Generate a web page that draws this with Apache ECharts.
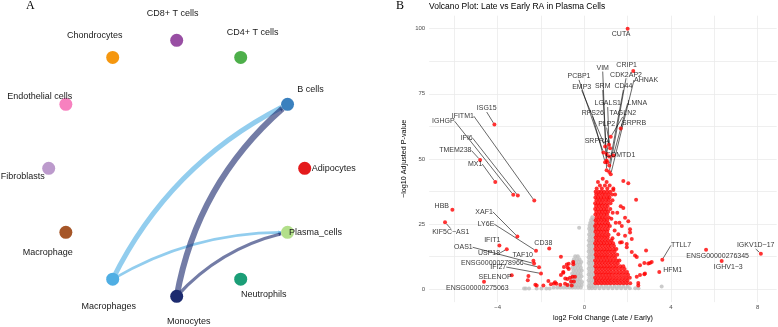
<!DOCTYPE html>
<html>
<head>
<meta charset="utf-8">
<script src="https://cdn.jsdelivr.net/npm/echarts@6/dist/echarts.min.js"></script>
<style>
html, body { margin: 0; padding: 0; background: #fff; }
#chart { width: 778px; height: 327px; }
</style>
</head>
<body>
<div id="chart"></div>
<script>
// ---- panel A: cell-type interaction network ----
const cellTypes = ['Adipocytes', 'B cells', 'CD4+ T cells', 'CD8+ T cells', 'Chondrocytes',
    'Endothelial cells', 'Fibroblasts', 'Macrophage', 'Macrophages', 'Monocytes',
    'Neutrophils', 'Plasma_cells'];
const cellColors = ['#E41A1C', '#3A80BE', '#4DAF4A', '#984EA3', '#F5970F', '#F781BF',
    '#BC9ACC', '#A65628', '#4FAEE3', '#1D2B6F', '#1B9E77', '#B2DF8A'];
const edgeFrom = ['Macrophages', 'Macrophages', 'Monocytes', 'Monocytes'];
const edgeTo = ['B cells', 'Plasma_cells', 'B cells', 'Plasma_cells'];
const edgeStrength = [5, 2.7, 6, 3.3];

// label offsets around each node (px) and edge bends
const nodeLabelOffset = [[29, 0], [23, -15], [12, -25], [-4, -27], [-18, -22], [-26, -8],
    [-26, 8], [-18, 20], [-4, 27], [12, 25], [23, 15], [28, 0]];
const edgeBend = [0.17, 0.14, 0.18, 0.16];

// ---- panel B: volcano plot ----
const geneNames = ['CUTA', 'CRIP1', 'ISG15', 'IFITM1', 'IGHGP', 'IFI6', 'TMEM238', 'MX1', 'HBB',
    'KIF5C\u2212AS1', 'XAF1', 'LY6E', 'IFIT1', 'USP18', 'OAS1', 'TAF10', 'CD38', 'ENSG00000278966',
    'IFI27', 'SELENOP', 'ENSG00000275063', 'TTLL7', 'HFM1', 'ENSG00000276345', 'IGHV1\u22123',
    'IGKV1D\u221217', 'PCBP1', 'EMP3', 'RPS26', 'SRPRA', 'VIM', 'SRM', 'LGALS1', 'PLP2', 'TAGLN2',
    'COMTD1', 'CDK2AP2', 'CD44', 'AHNAK', 'LMNA', 'SRPRB'];
const geneLFC = [2.0, 2.26, -4.15, -2.31, -3.28, -3.07, -4.81, -4.11, -6.09,
    -6.43, -3.09, -2.23, -3.92, -3.58, -2.32, -2.35, -1.62, -2.09,
    -2.0, -3.35, -4.63, 3.6, 3.46, 5.62, 6.34,
    8.15, 0.88, 0.96, 0.96, 1.03, 1.03, 1.03, 1.14, 1.19, 1.22,
    1.15, 1.15, 1.15, 1.22, 1.34, 1.68];
const geneP = [100, 83.8, 63.2, 34.0, 36.2, 35.9, 49.6, 41.1, 30.5,
    25.7, 20.2, 14.7, 16.7, 15.3, 9.8, 10.9, 15.6, 8.4,
    6.0, 5.3, 2.8, 11.3, 6.6, 15.1, 10.8,
    13.6, 52.5, 54.8, 48.7, 51.9, 45.6, 49.4, 55.4, 54.1, 58.5,
    50.9, 45.0, 47.5, 44.1, 51.3, 61.7];

// significant genes, dense block read row by row: [-log10 p, [log2FC ...]]
const sigRows = [
    [42.4, [0.85]],
    [41.1, [0.63, 1.03]],
    [39.8, [0.72, 0.95, 1.17]],
    [38.6, [0.57, 0.81, 1.06, 1.34]],
    [37.4, [0.52, 0.66, 0.78, 0.91, 1.05, 1.19]],
    [36.3, [0.55, 0.68, 0.83, 0.97, 1.12, 1.28, 1.42]],
    [35.2, [0.51, 0.64, 0.77, 0.9, 1.04, 1.16]],
    [34.1, [0.56, 0.7, 0.84, 0.99, 1.13, 1.3]],
    [33.0, [0.5, 0.63, 0.76, 0.9, 1.05, 1.21]],
    [31.9, [0.54, 0.67, 0.8, 0.94, 1.08]],
    [30.8, [0.5, 0.63, 0.77, 0.9, 1.03, 1.2]],
    [29.7, [0.55, 0.69, 0.82, 0.96, 1.1]],
    [28.6, [0.51, 0.64, 0.78, 0.92, 1.05]],
    [27.5, [0.56, 0.7, 0.83, 0.97, 1.13]],
    [26.4, [0.52, 0.65, 0.79, 0.93, 1.06]],
    [25.3, [0.55, 0.68, 0.82, 0.96, 1.1]],
    [24.2, [0.5, 0.64, 0.77, 0.91, 1.05, 1.18]],
    [23.1, [0.54, 0.67, 0.81, 0.95, 1.09]],
    [22.0, [0.51, 0.65, 0.78, 0.92, 1.06]],
    [20.9, [0.56, 0.69, 0.83, 0.97, 1.12]],
    [19.8, [0.52, 0.66, 0.8, 0.94, 1.08]],
    [18.7, [0.55, 0.68, 0.82, 0.96, 1.1, 1.25]],
    [17.6, [0.5, 0.64, 0.78, 0.91, 1.05, 1.19, 1.33]],
    [16.5, [0.54, 0.67, 0.81, 0.95, 1.09, 1.22, 1.37]],
    [15.4, [0.51, 0.65, 0.79, 0.93, 1.06, 1.2, 1.35, 1.48]],
    [14.3, [0.55, 0.69, 0.83, 0.97, 1.11, 1.25, 1.4]],
    [13.2, [0.52, 0.66, 0.8, 0.94, 1.08, 1.23, 1.37, 1.52]],
    [12.1, [0.56, 0.7, 0.84, 0.98, 1.12, 1.27, 1.42]],
    [11.0, [0.5, 0.64, 0.78, 0.92, 1.06, 1.2, 1.34, 1.49, 1.62]],
    [9.9, [0.54, 0.68, 0.82, 0.96, 1.1, 1.24, 1.39, 1.54]],
    [8.8, [0.51, 0.65, 0.79, 0.93, 1.07, 1.21, 1.36, 1.5, 1.66, 1.8]],
    [7.7, [0.55, 0.69, 0.83, 0.97, 1.11, 1.25, 1.4, 1.55, 1.7, 1.86]],
    [6.6, [0.52, 0.66, 0.8, 0.94, 1.08, 1.22, 1.37, 1.52, 1.67, 1.82, 1.97]],
    [5.5, [0.56, 0.7, 0.84, 0.98, 1.12, 1.26, 1.41, 1.56, 1.71, 1.87, 2.02]],
    [4.4, [0.5, 0.64, 0.78, 0.92, 1.06, 1.2, 1.35, 1.5, 1.65, 1.8, 1.95, 2.1]],
    [3.3, [0.54, 0.68, 0.82, 0.96, 1.1, 1.24, 1.39, 1.54, 1.69, 1.84, 1.99]],
    [2.2, [0.51, 0.65, 0.79, 0.93, 1.07, 1.21, 1.36, 1.51, 1.66, 1.81, 1.96, 2.12]]
];
// significant genes scattered outside the block: [log2FC, -log10 p]
const sigScatter = [
    [-1.08, 12.4], [-2.58, 5.0], [-2.61, 3.4], [-2.26, 1.7], [-2.2, 1.4], [-1.89, 1.4],
    [-1.66, 3.1], [-1.54, 1.9], [-1.29, 2.0], [-1.11, 1.7], [-1.08, 5.4], [-0.97, 6.3],
    [-0.94, 8.5], [-0.77, 8.3], [-0.72, 9.7], [-0.51, 9.5], [-0.51, 10.4], [-0.88, 4.1],
    [-0.78, 3.9], [-0.66, 4.4], [-0.78, 1.6], [-0.61, 2.9], [-0.54, 4.7], [-0.89, 2.0],
    [-1.35, 2.6], [-1.4, 2.1], [-0.58, 1.4], [-0.48, 2.9], [-0.43, 4.7], [-0.81, 9.4],
    [-0.72, 7.7], [-0.97, 6.6],
    [1.8, 41.5], [2.03, 40.6], [2.39, 34.3], [1.68, 31.8], [1.8, 31.1], [1.52, 29.3],
    [2.03, 26.1], [1.73, 24.2], [2.11, 21.7], [1.57, 21.1], [1.88, 20.5], [1.65, 17.9],
    [1.96, 16.1], [2.85, 14.8], [2.19, 14.2], [2.42, 12.3], [3.11, 10.4], [2.95, 9.8],
    [2.57, 9.2], [2.8, 6.0], [2.57, 5.4], [2.49, 2.3], [2.77, 10.0], [3.03, 10.0],
    [2.77, 5.7], [2.42, 4.7], [2.49, 1.4], [1.73, 18.0], [2.19, 19.2], [1.62, 25.5],
    [1.88, 27.4], [1.31, 29.3], [2.11, 23.0], [1.96, 17.3], [2.34, 12.9], [1.34, 38.1],
    [1.25, 27.0], [1.4, 22.5], [1.3, 19.5], [1.45, 25.5], [1.06, 48.7]
];
// not significant genes, row by row: [-log10 p, [log2FC ...]]
const nsRows = [
    [23.6, [-0.24]],
    [12.6, [-0.42, -0.3]],
    [11.5, [-0.48, -0.35, -0.22]],
    [10.4, [-0.52, -0.39, -0.26, -0.14]],
    [9.3, [-0.45, -0.32, -0.19]],
    [8.2, [-0.55, -0.42, -0.29, -0.16]],
    [7.1, [-0.5, -0.37, -0.24, -0.12]],
    [6.0, [-0.56, -0.43, -0.3, -0.17]],
    [4.9, [-0.52, -0.39, -0.26, -0.13]],
    [3.8, [-0.58, -0.45, -0.32, -0.19]],
    [2.7, [-0.61, -0.48, -0.35, -0.22, -0.1]],
    [1.6, [-0.75, -0.62, -0.5, -0.37, -0.24, -0.12]],
    [0.6, [-1.42, -1.25, -1.1, -0.95, -0.81, -0.68, -0.55, -0.42, -0.29, -0.16]],
    [0.2, [-2.78, -2.7, -2.55, -2.2, -1.98, -1.75, -1.6]],
    [27.6, [0.37]],
    [26.5, [0.31, 0.43]],
    [25.4, [0.27, 0.4]],
    [24.3, [0.24, 0.36, 0.47]],
    [23.2, [0.22, 0.34, 0.46]],
    [22.1, [0.26, 0.38]],
    [21.0, [0.22, 0.35, 0.47]],
    [19.9, [0.25, 0.38]],
    [18.8, [0.21, 0.34, 0.46]],
    [17.7, [0.24, 0.37]],
    [16.6, [0.2, 0.33, 0.45]],
    [15.5, [0.23, 0.36]],
    [14.4, [0.2, 0.32, 0.44]],
    [13.3, [0.24, 0.37]],
    [12.2, [0.2, 0.33, 0.45]],
    [11.1, [0.23, 0.36]],
    [10.0, [0.2, 0.32, 0.44]],
    [8.9, [0.24, 0.37]],
    [7.8, [0.2, 0.33, 0.45]],
    [6.7, [0.23, 0.36]],
    [5.6, [0.2, 0.32, 0.44]],
    [4.5, [0.24, 0.37]],
    [3.4, [0.2, 0.33, 0.45]],
    [2.3, [0.23, 0.36]],
    [1.2, [0.2, 0.32, 0.44, 0.6, 0.8, 1.0, 1.2, 1.4, 1.6, 1.8, 2.0]],
    [1.0, [3.57]],
    [0.3, [0.22, 0.35, 0.5, 0.7, 0.9, 1.1, 1.3, 1.5, 1.7, 1.9, 2.1, 2.35, 2.5]]
];
const xGridValues = [-6, -4, -2, 0, 2, 4, 6, 8];
const xTickLabels = [-4, 0, 4, 8];
const yGridValues = [0, 12.5, 25, 37.5, 50, 62.5, 75, 87.5, 100];
const yTickLabels = [0, 25, 50, 75, 100];

// where each gene label sits relative to its point (px), and which get a segment
const geneLabelOffset = [[-6.6, 5.6], [-6.6, -6], [-7.7, -16], [-71.5, -84.4], [-69.9, -73.6],
    [-51.1, -57.4], [-24.8, -9.4], [-20.2, -18], [-10.6, -3.4], [5.7, 9.9], [-33.3, -24.7],
    [-50, -26.6], [-7.1, -6], [-17.7, 3.6], [-70.7, -16.3], [-10.7, -6.1], [-5.9, -5.2],
    [-46.7, -3.7], [-42.7, -6.4], [-16.7, 1.5], [-6.7, 5.8], [18.7, -14.3], [13.4, -1.8],
    [11.6, 6.5], [6.6, 6.1], [-5.2, -8.2], [-24.4, -76], [-23.4, -59.6], [-12.4, -49.4],
    [-9.9, -13.3], [-3.9, -102.3], [-3.9, -73.9], [-1.3, -41.3], [-3.4, -24.1], [12, -23.4],
    [11.3, -1.3], [16.8, -97.2], [14.1, -79], [35.3, -94.3], [24, -52.2], [13.3, -4.9]];
const noSegment = ['CUTA', 'CRIP1', 'HBB', 'IFIT1', 'TAF10', 'CD38', 'SELENOP',
    'ENSG00000275063', 'HFM1', 'ENSG00000276345', 'IGHV1\u22123'];

const FONT = 'Liberation Sans, Arial, sans-serif';

let chartDom = document.getElementById('chart');
let myChart = echarts.init(chartDom, null, { renderer: 'canvas' });

let nodes = cellTypes.map(function (name, i) {
    return {
        name: name,
        value: [1, name],
        itemStyle: { color: cellColors[i] },
        label: { offset: nodeLabelOffset[i] }
    };
});
let links = edgeFrom.map(function (s, i) {
    return {
        source: s,
        target: edgeTo[i],
        lineStyle: {
            width: edgeStrength[i],
            curveness: edgeBend[i],
            color: cellColors[cellTypes.indexOf(s)]
        }
    };
});

function rowsToPoints(rows) {
    let pts = [];
    rows.forEach(function (r) {
        r[1].forEach(function (x) { pts.push([x, r[0]]); });
    });
    return pts;
}
let nsPoints = rowsToPoints(nsRows);
let sigPoints = rowsToPoints(sigRows).concat(sigScatter);
let genePoints = geneNames.map(function (g, i) {
    return {
        name: g,
        value: [geneLFC[i], geneP[i]],
        labelLine: { show: noSegment.indexOf(g) < 0 }
    };
});

function minusFmt(v) {
    return v < 0 ? '\u2212' + (-v) : String(v);
}

let option = {
    animation: false,
    textStyle: { fontFamily: FONT },
    title: [
        {
            text: 'A', left: 26, top: 0, padding: 0,
            textStyle: { fontFamily: 'Liberation Serif, serif', fontSize: 12, fontWeight: 'normal', color: '#000' }
        },
        {
            text: 'B', left: 396, top: 0, padding: 0,
            textStyle: { fontFamily: 'Liberation Serif, serif', fontSize: 12, fontWeight: 'normal', color: '#000' }
        },
        {
            text: 'Volcano Plot: Late vs Early RA in Plasma Cells', left: 429, top: 2, padding: 0,
            textStyle: { fontFamily: FONT, fontSize: 8.5, fontWeight: 'normal', color: '#000' }
        }
    ],
    polar: { center: [176.7, 168.3], radius: 128 },
    angleAxis: {
        type: 'category',
        data: cellTypes,
        startAngle: 0,
        clockwise: false,
        boundaryGap: false,
        axisLine: { show: false },
        axisTick: { show: false },
        axisLabel: { show: false },
        splitLine: { show: false }
    },
    radiusAxis: {
        min: 0, max: 1,
        axisLine: { show: false },
        axisTick: { show: false },
        axisLabel: { show: false },
        splitLine: { show: false }
    },
    grid: { left: 429.2, right: 1.3, top: 15.7, bottom: 19.4 },
    xAxis: {
        type: 'value',
        min: -7.16,
        max: 8.88,
        name: 'log2 Fold Change (Late / Early)',
        nameLocation: 'middle',
        nameGap: 10,
        nameTextStyle: { fontSize: 7.2, color: '#000', fontFamily: FONT },
        axisLine: { show: false },
        axisTick: { show: false, customValues: xGridValues },
        axisLabel: { customValues: xTickLabels, fontSize: 6, color: '#4d4d4d', margin: 2, formatter: minusFmt },
        splitLine: { show: true, lineStyle: { color: '#ebebeb', width: 0.8 } }
    },
    yAxis: {
        type: 'value',
        min: -5,
        max: 105,
        name: '\u2212log10 Adjusted P-value',
        nameLocation: 'middle',
        nameGap: 22,
        nameTextStyle: { fontSize: 7.2, color: '#000', fontFamily: FONT },
        axisLine: { show: false },
        axisTick: { show: false, customValues: yGridValues },
        axisLabel: { customValues: yTickLabels, fontSize: 6, color: '#4d4d4d', margin: 4 },
        splitLine: { show: true, lineStyle: { color: '#ebebeb', width: 0.8 } }
    },
    series: [
        {
            type: 'graph',
            coordinateSystem: 'polar',
            data: nodes,
            links: links,
            symbolSize: 13,
            edgeSymbol: ['none', 'arrow'],
            edgeSymbolSize: [0, 3],
            lineStyle: { opacity: 0.62 },
            label: {
                show: true,
                position: 'inside',
                fontSize: 9,
                color: '#1a1a1a',
                fontFamily: FONT
            },
            emphasis: { disabled: true },
            z: 3
        },
        {
            type: 'scatter',
            data: nsPoints,
            symbolSize: 4,
            itemStyle: { color: '#bebebe' },
            silent: true,
            z: 2
        },
        {
            type: 'scatter',
            data: sigPoints,
            symbolSize: 4,
            itemStyle: { color: '#ff0000' },
            silent: true,
            z: 3
        },
        {
            type: 'scatter',
            data: genePoints,
            symbolSize: 4,
            itemStyle: { color: '#ff0000' },
            label: {
                show: true,
                position: 'inside',
                formatter: '{b}',
                fontSize: 7,
                color: '#000',
                fontFamily: FONT
            },
            labelLine: { show: true, lineStyle: { color: '#000', width: 0.6 } },
            labelLayout: function (p) {
                let off = geneLabelOffset[p.dataIndex];
                return { dx: off[0], dy: off[1] };
            },
            silent: true,
            z: 4
        }
    ]
};

option && myChart.setOption(option);
</script>
</body>
</html>
